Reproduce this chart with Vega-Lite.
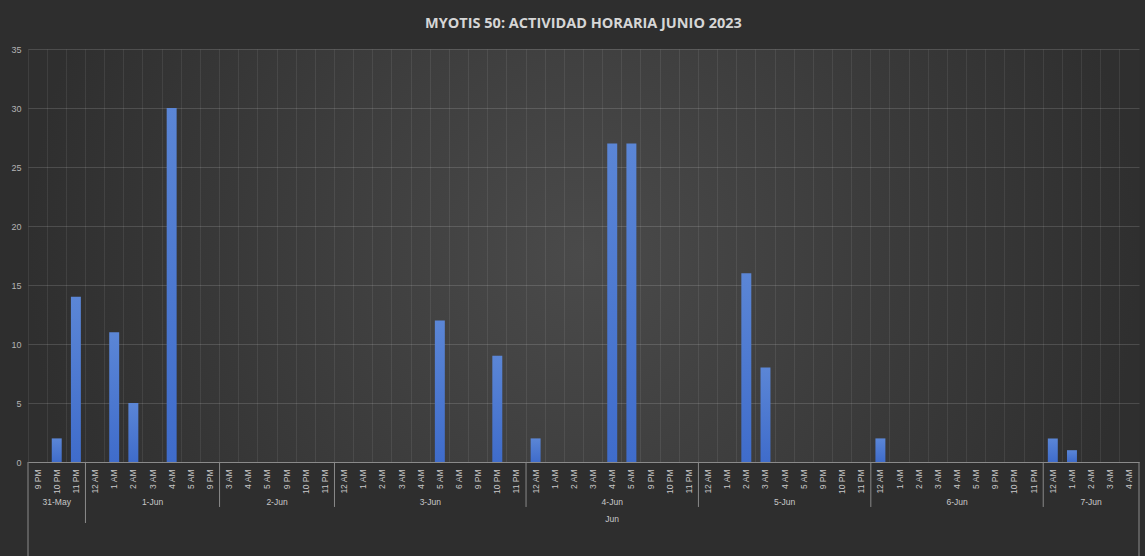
{
  "$schema": "https://vega.github.io/schema/vega-lite/v6.json",
  "width": 1111,
  "height": 413,
  "autosize": "none",
  "padding": {"left": 28, "top": 49, "right": 6, "bottom": 94},
  "background": "#2e2e2e",
  "title": {"text": "MYOTIS 50: ACTIVIDAD HORARIA JUNIO 2023", "fontSize": 14.5, "fontWeight": "bold", "color": "#d6d6d6", "font": "Open Sans", "offset": 14, "anchor": "middle"},
  "config": {
    "view": {"stroke": null, "fill": {"gradient": "radial", "stops": [{"offset": 0, "color": "#4a4a4a"}, {"offset": 1, "color": "#2f2f2f"}]}},
    "font": "Open Sans"
  },
  "datasets": {
    "horas": [
      {"k": "31-May|9 PM", "n": 0}, {"k": "31-May|10 PM", "n": 2}, {"k": "31-May|11 PM", "n": 14},
      {"k": "1-Jun|12 AM", "n": 0}, {"k": "1-Jun|1 AM", "n": 11}, {"k": "1-Jun|2 AM", "n": 5}, {"k": "1-Jun|3 AM", "n": 0}, {"k": "1-Jun|4 AM", "n": 30}, {"k": "1-Jun|5 AM", "n": 0}, {"k": "1-Jun|9 PM", "n": 0},
      {"k": "2-Jun|3 AM", "n": 0}, {"k": "2-Jun|4 AM", "n": 0}, {"k": "2-Jun|5 AM", "n": 0}, {"k": "2-Jun|9 PM", "n": 0}, {"k": "2-Jun|10 PM", "n": 0}, {"k": "2-Jun|11 PM", "n": 0},
      {"k": "3-Jun|12 AM", "n": 0}, {"k": "3-Jun|1 AM", "n": 0}, {"k": "3-Jun|2 AM", "n": 0}, {"k": "3-Jun|3 AM", "n": 0}, {"k": "3-Jun|4 AM", "n": 0}, {"k": "3-Jun|5 AM", "n": 12}, {"k": "3-Jun|6 AM", "n": 0}, {"k": "3-Jun|9 PM", "n": 0}, {"k": "3-Jun|10 PM", "n": 9}, {"k": "3-Jun|11 PM", "n": 0},
      {"k": "4-Jun|12 AM", "n": 2}, {"k": "4-Jun|1 AM", "n": 0}, {"k": "4-Jun|2 AM", "n": 0}, {"k": "4-Jun|3 AM", "n": 0}, {"k": "4-Jun|4 AM", "n": 27}, {"k": "4-Jun|5 AM", "n": 27}, {"k": "4-Jun|9 PM", "n": 0}, {"k": "4-Jun|10 PM", "n": 0}, {"k": "4-Jun|11 PM", "n": 0},
      {"k": "5-Jun|12 AM", "n": 0}, {"k": "5-Jun|1 AM", "n": 0}, {"k": "5-Jun|2 AM", "n": 16}, {"k": "5-Jun|3 AM", "n": 8}, {"k": "5-Jun|4 AM", "n": 0}, {"k": "5-Jun|5 AM", "n": 0}, {"k": "5-Jun|9 PM", "n": 0}, {"k": "5-Jun|10 PM", "n": 0}, {"k": "5-Jun|11 PM", "n": 0},
      {"k": "6-Jun|12 AM", "n": 2}, {"k": "6-Jun|1 AM", "n": 0}, {"k": "6-Jun|2 AM", "n": 0}, {"k": "6-Jun|3 AM", "n": 0}, {"k": "6-Jun|4 AM", "n": 0}, {"k": "6-Jun|5 AM", "n": 0}, {"k": "6-Jun|9 PM", "n": 0}, {"k": "6-Jun|10 PM", "n": 0}, {"k": "6-Jun|11 PM", "n": 0},
      {"k": "7-Jun|12 AM", "n": 2}, {"k": "7-Jun|1 AM", "n": 1}, {"k": "7-Jun|2 AM", "n": 0}, {"k": "7-Jun|3 AM", "n": 0}, {"k": "7-Jun|4 AM", "n": 0}
    ],
    "dias": [
      {"k": "31-May|10 PM", "dia": "31-May", "par": "impar"},
      {"k": "1-Jun|3 AM", "dia": "1-Jun", "par": "impar"},
      {"k": "2-Jun|9 PM", "dia": "2-Jun", "par": "par"},
      {"k": "3-Jun|5 AM", "dia": "3-Jun", "par": "par"},
      {"k": "4-Jun|4 AM", "dia": "4-Jun", "par": "impar"},
      {"k": "5-Jun|4 AM", "dia": "5-Jun", "par": "impar"},
      {"k": "6-Jun|4 AM", "dia": "6-Jun", "par": "impar"},
      {"k": "7-Jun|2 AM", "dia": "7-Jun", "par": "impar"}
    ],
    "seps": [
      {"k": "1-Jun|12 AM", "nivel": "mes"},
      {"k": "2-Jun|3 AM", "nivel": "dia"},
      {"k": "3-Jun|12 AM", "nivel": "dia"},
      {"k": "4-Jun|12 AM", "nivel": "dia"},
      {"k": "5-Jun|12 AM", "nivel": "dia"},
      {"k": "6-Jun|12 AM", "nivel": "dia"},
      {"k": "7-Jun|12 AM", "nivel": "dia"},
      {"k": "31-May|9 PM", "nivel": "inicio"},
      {"k": "7-Jun|4 AM", "nivel": "fin"}
    ],
    "meses": [
      {"k": "4-Jun|4 AM", "mes": "Jun"}
    ]
  },
  "layer": [
    {
      "data": {"name": "horas"},
      "mark": {"type": "bar", "width": {"band": 0.52}, "color": {"gradient": "linear", "x1": 0, "y1": 0, "x2": 0, "y2": 1, "stops": [{"offset": 0, "color": "#5b86d6"}, {"offset": 1, "color": "#3f6ccb"}]}},
      "encoding": {
        "x": {"field": "k", "type": "nominal", "sort": null, "scale": {"paddingInner": 0, "paddingOuter": 0},
          "axis": {"title": null, "labelExpr": "split(datum.value, '|')[1]", "labelAngle": -90, "labelFontSize": 8.5, "labelColor": "#c8c8c8", "labelPadding": 7, "ticks": false, "domainColor": "#8a8a8a", "domainWidth": 1, "grid": true, "gridColor": "#ffffff", "gridOpacity": 0.08, "bandPosition": 0, "labelFont": "Liberation Sans"}},
        "y": {"field": "n", "type": "quantitative", "scale": {"domain": [0, 35], "nice": false},
          "axis": {"title": null, "values": [0, 5, 10, 15, 20, 25, 30, 35], "ticks": false, "domain": false, "labelColor": "#b4b4b4", "labelFontSize": 9, "labelPadding": 7, "gridColor": "#ffffff", "gridOpacity": 0.14, "labelFont": "Liberation Sans"}}
      }
    },
    {
      "data": {"name": "seps"},
      "transform": [{"filter": "datum.nivel == 'dia'"}],
      "mark": {"type": "rule", "color": "#8a8a8a", "strokeWidth": 1},
      "encoding": {
        "x": {"field": "k", "type": "nominal", "sort": null, "bandPosition": 0},
        "y": {"datum": 0, "type": "quantitative", "scale": {"domain": [0, 35], "nice": false}},
        "y2": {"datum": -3.81}
      }
    },
    {
      "data": {"name": "seps"},
      "transform": [{"filter": "datum.nivel == 'mes'"}],
      "mark": {"type": "rule", "color": "#8a8a8a", "strokeWidth": 1},
      "encoding": {
        "x": {"field": "k", "type": "nominal", "sort": null, "bandPosition": 0},
        "y": {"datum": 0, "type": "quantitative", "scale": {"domain": [0, 35], "nice": false}},
        "y2": {"datum": -5.17}
      }
    },
    {
      "data": {"name": "seps"},
      "transform": [{"filter": "datum.nivel == 'inicio'"}],
      "mark": {"type": "rule", "color": "#8a8a8a", "strokeWidth": 1},
      "encoding": {
        "x": {"field": "k", "type": "nominal", "sort": null, "bandPosition": 0},
        "y": {"datum": 0, "type": "quantitative", "scale": {"domain": [0, 35], "nice": false}},
        "y2": {"datum": -8.5}
      }
    },
    {
      "data": {"name": "seps"},
      "transform": [{"filter": "datum.nivel == 'fin'"}],
      "mark": {"type": "rule", "color": "#8a8a8a", "strokeWidth": 1},
      "encoding": {
        "x": {"field": "k", "type": "nominal", "sort": null, "bandPosition": 1},
        "y": {"datum": 0, "type": "quantitative", "scale": {"domain": [0, 35], "nice": false}},
        "y2": {"datum": -8.5}
      }
    },
    {
      "data": {"name": "dias"},
      "transform": [{"filter": "datum.par == 'impar'"}],
      "mark": {"type": "text", "color": "#c8c8c8", "fontSize": 8.5, "font": "Liberation Sans", "baseline": "middle"},
      "encoding": {
        "x": {"field": "k", "type": "nominal", "sort": null, "bandPosition": 0.5},
        "y": {"datum": -3.39, "type": "quantitative", "scale": {"domain": [0, 35], "nice": false}},
        "text": {"field": "dia"}
      }
    },
    {
      "data": {"name": "dias"},
      "transform": [{"filter": "datum.par == 'par'"}],
      "mark": {"type": "text", "color": "#c8c8c8", "fontSize": 8.5, "font": "Liberation Sans", "baseline": "middle"},
      "encoding": {
        "x": {"field": "k", "type": "nominal", "sort": null, "bandPosition": 0},
        "y": {"datum": -3.39, "type": "quantitative", "scale": {"domain": [0, 35], "nice": false}},
        "text": {"field": "dia"}
      }
    },
    {
      "data": {"name": "meses"},
      "mark": {"type": "text", "color": "#c8c8c8", "fontSize": 8.5, "font": "Liberation Sans", "baseline": "middle"},
      "encoding": {
        "x": {"field": "k", "type": "nominal", "sort": null, "bandPosition": 0.5},
        "y": {"datum": -4.83, "type": "quantitative", "scale": {"domain": [0, 35], "nice": false}},
        "text": {"field": "mes"}
      }
    }
  ]
}
